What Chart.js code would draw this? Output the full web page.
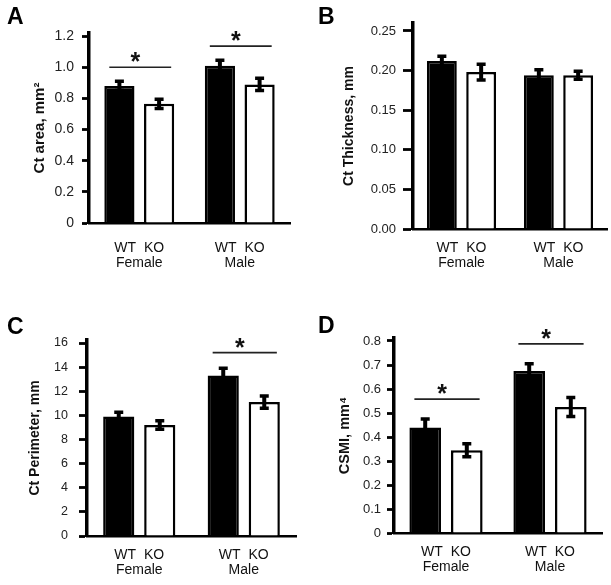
<!DOCTYPE html>
<html>
<head>
<meta charset="utf-8">
<script src="https://cdn.jsdelivr.net/npm/chart.js@4"></script>
<style>
  html,body{margin:0;padding:0;background:#fff;}
  #wrap{position:relative;width:611px;height:585px;background:#fff;overflow:hidden;}
  canvas{position:absolute;}
  .letter{position:absolute;font-family:"Liberation Sans",Arial,sans-serif;font-weight:bold;font-size:23px;line-height:23px;color:#000;}
</style>
</head>
<body>
<div id="wrap">
  <canvas id="cA"></canvas>
  <canvas id="cB"></canvas>
  <canvas id="cC"></canvas>
  <canvas id="cD"></canvas>
  <div class="letter" style="left:7px;top:5px">A</div>
  <div class="letter" style="left:318px;top:5px">B</div>
  <div class="letter" style="left:7px;top:315px">C</div>
  <div class="letter" style="left:318px;top:314px">D</div>
</div>
<script>
// ---------- data ----------
const groups = ['Female', 'Male'];
const xLabels = [['WT  KO', 'Female'], ['WT  KO', 'Male']];
const seriesNames = ['WT', 'KO'];

// A: Ct area, mm2
const areaWT = [0.88, 1.01];
const areaKO = [0.765, 0.89];
const areaWTerr = [0.03, 0.035];
const areaKOerr = [0.03, 0.04];
const areaSig = [1.0, 1.136];
const areaTicks = [0, 0.2, 0.4, 0.6, 0.8, 1.0, 1.2];
const areaTickLabels = ['0', '0.2', '0.4', '0.6', '0.8', '1.0', '1.2'];

// B: Ct Thickness, mm
const thickWT = [0.212, 0.194];
const thickKO = [0.198, 0.194];
const thickWTerr = [0.006, 0.007];
const thickKOerr = [0.01, 0.005];
const thickSig = [null, null];
const thickTicks = [0, 0.05, 0.10, 0.15, 0.20, 0.25];
const thickTickLabels = ['0.00', '0.05', '0.10', '0.15', '0.20', '0.25'];

// C: Ct Perimeter, mm
const perWT = [9.9, 13.3];
const perKO = [9.2, 11.1];
const perWTerr = [0.35, 0.6];
const perKOerr = [0.35, 0.5];
const perSig = [null, 15.2];
const perTicks = [0, 2, 4, 6, 8, 10, 12, 14, 16];
const perTickLabels = ['0', '2', '4', '6', '8', '10', '12', '14', '16'];

// D: CSMI, mm4
const csmiWT = [0.44, 0.675];
const csmiKO = [0.345, 0.525];
const csmiWTerr = [0.035, 0.03];
const csmiKOerr = [0.027, 0.04];
const csmiSig = [0.558, 0.788];
const csmiTicks = [0, 0.1, 0.2, 0.3, 0.4, 0.5, 0.6, 0.7, 0.8];
const csmiTickLabels = ['0', '0.1', '0.2', '0.3', '0.4', '0.5', '0.6', '0.7', '0.8'];

// ---------- plugin: error bars, significance lines ----------
const extras = {
  id: 'extras',
  afterDatasetsDraw(chart, args, opts) {
    const ctx = chart.ctx, y = chart.scales.y;
    chart.data.datasets.forEach((ds, di) => {
      const meta = chart.getDatasetMeta(di);
      meta.data.forEach((bar, i) => {
        const v = ds.data[i], e = ds.errors[i];
        const yt = y.getPixelForValue(v + e), yb = y.getPixelForValue(v - e);
        ctx.save();
        ctx.strokeStyle = '#000';
        ctx.lineWidth = 4;
        ctx.beginPath();
        ctx.moveTo(bar.x, yt); ctx.lineTo(bar.x, yb);
        ctx.stroke();
        ctx.lineWidth = 3.5;
        ctx.beginPath();
        ctx.moveTo(bar.x - 4.5, yt); ctx.lineTo(bar.x + 4.5, yt);
        ctx.moveTo(bar.x - 4.5, yb); ctx.lineTo(bar.x + 4.5, yb);
        ctx.stroke();
        ctx.restore();
      });
    });
    (opts.sig || []).forEach((s, i) => {
      if (s == null) return;
      const b0 = chart.getDatasetMeta(0).data[i];
      const b1 = chart.getDatasetMeta(1).data[i];
      const x0 = b0.x - b0.width / 2 + 5, x1 = b1.x + b1.width / 2 - 3;
      const yy = y.getPixelForValue(s);
      ctx.save();
      ctx.strokeStyle = '#222';
      ctx.lineWidth = 1.6;
      ctx.beginPath(); ctx.moveTo(x0, yy); ctx.lineTo(x1, yy); ctx.stroke();
      ctx.fillStyle = '#111';
      ctx.font = 'bold 25px "Liberation Sans", Arial, sans-serif';
      ctx.textAlign = 'center';
      ctx.textBaseline = 'alphabetic';
      ctx.fillText('*', (x0 + x1) / 2 - 5, yy + 3);
      ctx.restore();
    });
  }
};

const FONT = '"Liberation Sans", Arial, sans-serif';

function makePanel(p) {
  const cv = document.getElementById(p.id);
  cv.width = p.w; cv.height = p.h;
  cv.style.left = p.left + 'px'; cv.style.top = p.top + 'px';
  cv.style.width = p.w + 'px'; cv.style.height = p.h + 'px';
  new Chart(cv, {
    type: 'bar',
    data: {
      labels: xLabels,
      datasets: [
        { label: seriesNames[0], data: p.wt, errors: p.wtErr, backgroundColor: '#000', borderColor: '#000', borderWidth: 2.5,
          categoryPercentage: p.cat, barPercentage: 0.76 },
        { label: seriesNames[1], data: p.ko, errors: p.koErr, backgroundColor: '#fff', borderColor: '#000', borderWidth: 2.5,
          categoryPercentage: p.cat, barPercentage: 0.76 }
      ]
    },
    options: {
      responsive: false,
      devicePixelRatio: 1,
      animation: false,
      layout: { padding: p.pad },
      plugins: { legend: { display: false }, tooltip: { enabled: false }, extras: { sig: p.sig } },
      scales: {
        x: {
          grid: { display: false, drawTicks: false },
          border: { display: true, color: '#000', width: 2.5 },
          ticks: { color: '#111', padding: p.xPad, font: { family: FONT, size: 14, lineHeight: 1.1 } },
          afterFit: (s) => { s.height = p.xH; }
        },
        y: {
          min: 0, max: p.yMax,
          afterBuildTicks: (s) => { s.ticks = p.ticks.map(v => ({ value: v })); },
          grid: { display: true, drawOnChartArea: false, drawTicks: true, tickLength: p.tl, tickWidth: 2.8, color: '#000' },
          border: { display: true, color: '#000', width: 3.5 },
          ticks: {
            color: '#222', padding: p.tp, font: { family: FONT, size: p.fs },
            callback: (v, i) => p.tickLabels[i]
          },
          title: { display: true, text: p.title, color: '#111', padding: { top: 0, bottom: 0 },
                   font: { family: FONT, size: p.ts, weight: 'bold' } },
          afterFit: (s) => { s.width = p.yW; }
        }
      }
    },
    plugins: [extras]
  });
}

makePanel({ id: 'cA', left: 0, top: 0, w: 305, h: 290, pad: { left: 31, top: 33, right: 15, bottom: 0 },
  yW: 58, xH: 67, yMax: 1.22, ticks: areaTicks, tickLabels: areaTickLabels, fs: 14, tl: 7, tp: 8, xPad: 17, cat: 0.79, ts: 15,
  wt: areaWT, ko: areaKO, wtErr: areaWTerr, koErr: areaKOerr, sig: areaSig, title: 'Ct area, mm\u00B2' });

makePanel({ id: 'cB', left: 305, top: 0, w: 306, h: 290, pad: { left: 36, top: 23, right: 4, bottom: 0 },
  yW: 72, xH: 61, yMax: 0.26, ticks: thickTicks, tickLabels: thickTickLabels, fs: 13, tl: 10, tp: 7, xPad: 11, cat: 0.81, ts: 14,
  wt: thickWT, ko: thickKO, wtErr: thickWTerr, koErr: thickKOerr, sig: thickSig, title: 'Ct Thickness, mm' });

makePanel({ id: 'cC', left: 0, top: 290, w: 305, h: 295, pad: { left: 27, top: 50, right: 9, bottom: 0 },
  yW: 60, xH: 49, yMax: 16.25, ticks: perTicks, tickLabels: perTickLabels, fs: 12.5, tl: 8, tp: 11, xPad: 11, cat: 0.785, ts: 14,
  wt: perWT, ko: perKO, wtErr: perWTerr, koErr: perKOerr, sig: perSig, title: 'Ct Perimeter, mm' });

makePanel({ id: 'cD', left: 305, top: 290, w: 306, h: 295, pad: { left: 31, top: 48, right: 9, bottom: 0 },
  yW: 58, xH: 52, yMax: 0.8125, ticks: csmiTicks, tickLabels: csmiTickLabels, fs: 13, tl: 7, tp: 6, xPad: 11, cat: 0.8, ts: 14.5,
  wt: csmiWT, ko: csmiKO, wtErr: csmiWTerr, koErr: csmiKOerr, sig: csmiSig, title: 'CSMI, mm\u2074' });
</script>
</body>
</html>
